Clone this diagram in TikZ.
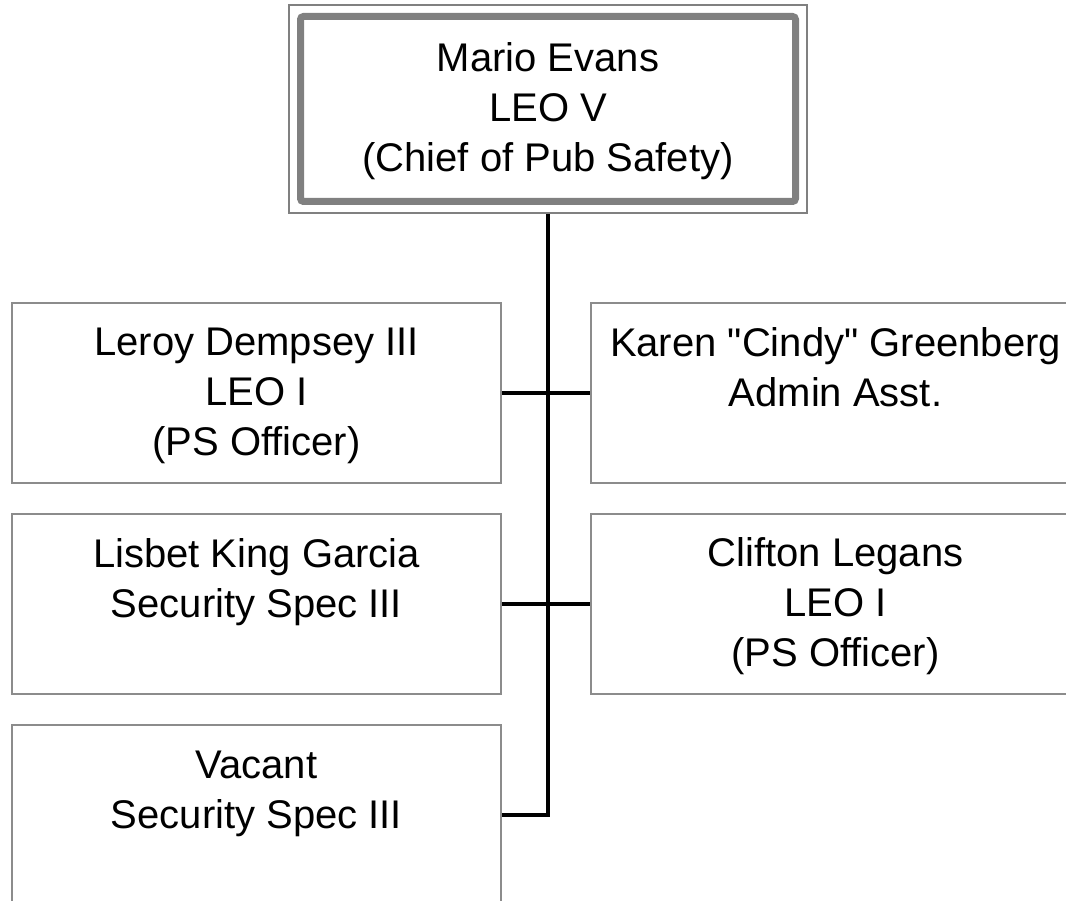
\documentclass[tikz,border=0pt]{standalone}
\usepackage{fontspec}
\newfontfamily\orgfont{Liberation Sans}
\newcommand{\vst}{\rule[-8pt]{0pt}{42pt}}
\begin{document}
\begin{tikzpicture}[x=1pt,y=-1pt,
  box/.style={draw=black!45, line width=1.5pt, fill=white, minimum width=489pt, minimum height=180pt,
    inner sep=0pt, align=center, font=\orgfont\fontsize{40}{50}\selectfont},
  chiefbox/.style={draw=black!50, line width=1.6pt, minimum width=518pt, minimum height=208pt,
    inner sep=0pt, align=center, font=\orgfont\fontsize{40}{50}\selectfont},
  innerframe/.style={draw=black!50, line width=7pt, rounded corners=3pt, minimum width=495pt, minimum height=185pt, inner sep=0pt},
  link/.style={draw=black, line width=3.2pt}
]
\useasboundingbox (0,0) rectangle (1066,901);
\clip (0,0) rectangle (1066,901);

\node[innerframe] (chiefframe) at (548,109) {};
\node[chiefbox] (chief) at (548,109) {\vst Mario Evans\\\vst LEO V\\\vst (Chief of Pub Safety)};

\node[box] (leroy)   at (256.5,393) {\vst Leroy Dempsey III\\\vst LEO I\\\vst (PS Officer)};
\node[box] (lisbet)  at (256.5,604) {\vst Lisbet King Garcia\\\vst Security Spec III\\\vst};
\node[box] (vacant)  at (256.5,815) {\vst Vacant\\\vst Security Spec III\\\vst};
\node[box] (karen)   at (835.5,393) {\vst Karen "Cindy" Greenberg\\\vst Admin Asst.\\\vst};
\node[box] (clifton) at (835.5,604) {\vst Clifton Legans\\\vst LEO I\\\vst (PS Officer)};

\coordinate (j3) at (chief.south |- vacant.east);

\draw[link] (chief.south) -- (j3) -- (vacant.east);
\draw[link] (leroy.east) -- (karen.west);
\draw[link] (lisbet.east) -- (clifton.west);
\end{tikzpicture}
\end{document}
